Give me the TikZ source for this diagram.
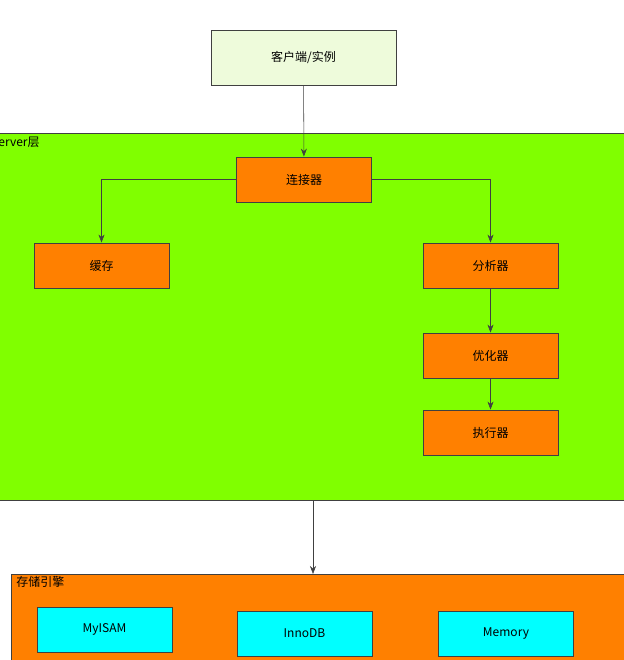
\documentclass[tikz,border=0pt]{standalone}
\usepackage{fontspec}
\setmainfont{Noto Sans CJK SC}
\usetikzlibrary{positioning, arrows.meta}
\definecolor{srvgreen}{HTML}{80FF00}
\definecolor{engorange}{HTML}{FF8000}
\definecolor{clientfill}{HTML}{EEFBDB}
\definecolor{enginecyan}{HTML}{00FFFF}
\tikzset{
  box/.style={draw=black!75, minimum width=101pt, minimum height=34pt, font=\small, inner sep=0pt},
  part/.style={box, fill=engorange},
  engine/.style={box, fill=enginecyan},
  layer/.style={draw=black!75},
  flow/.style={draw=black!75, -{Stealth[length=6pt]}}
}
\begin{document}
\begin{tikzpicture}[x=0.75pt, y=-0.75pt]
\useasboundingbox (0,0) rectangle (624,660);
\clip (0,0) rectangle (624,660);
\fill[white] (0,0) rectangle (624,660);

% layers
\draw[layer, fill=srvgreen] (-1,133) rectangle (640,500);
\node[anchor=north west, font=\small, inner sep=0pt] (srvlabel) at (-9,137) {Server层};
\draw[layer, fill=engorange] (11,574) rectangle (640,680);
\node[anchor=north west, font=\small, inner sep=0pt] (englabel) at (16,576) {存储引擎};
\coordinate (srvbot) at (313,500);
\coordinate (engtop) at (313,574);

% nodes
\node[box, fill=clientfill, minimum width=139pt, minimum height=41pt] (client) at (303.5,57.5) {客户端/实例};
\node[part] (conn) at (304,179.5) {连接器};
\node[part] (cache) at (101.5,265.5) {缓存};
\node[part] (parse) at (490.5,265.5) {分析器};
\node[part] (opt) at (490.5,355.5) {优化器};
\node[part] (exec) at (490.5,432.5) {执行器};
\node[engine] (myisam) at (104.5,629.5) {MyISAM};
\node[engine] (innodb) at (304.5,633.5) {InnoDB};
\node[engine] (memory) at (506,633.5) {Memory};

% edges
\draw[flow] (client) -- (conn);
\draw[flow] (conn.west) -| (cache.north);
\draw[flow] (conn.east) -| (parse.north);
\draw[flow] (parse) -- (opt);
\draw[flow] (opt) -- (exec);
\draw[flow] (srvbot) -- (engtop);
\end{tikzpicture}
\end{document}
